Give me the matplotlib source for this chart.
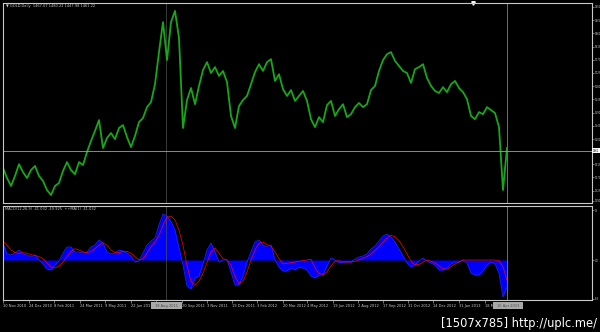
import numpy as np
import matplotlib
matplotlib.use('Agg')
import matplotlib.pyplot as plt
from matplotlib.patches import Rectangle

# GOLD daily close, sampled about once a week (Nov 2010 - Apr 2013)
close = [1402, 1368, 1341, 1375, 1415, 1388, 1368, 1395, 1409, 1375,
         1358, 1327, 1310, 1341, 1351, 1392, 1422, 1395, 1381, 1422,
         1412, 1456, 1494, 1528, 1565, 1470, 1504, 1521, 1500, 1538,
         1548, 1507, 1473, 1511, 1558, 1572, 1609, 1626, 1687, 1796,
         1898, 1769, 1898, 1936, 1844, 1538, 1633, 1674, 1619, 1681,
         1735, 1762, 1725, 1745, 1715, 1732, 1694, 1579, 1538, 1613,
         1633, 1647, 1687, 1728, 1755, 1732, 1762, 1772, 1698, 1721,
         1670, 1647, 1667, 1630, 1647, 1664, 1630, 1568, 1541, 1575,
         1558, 1616, 1630, 1579, 1602, 1619, 1575, 1585, 1609, 1623,
         1609, 1619, 1667, 1681, 1732, 1769, 1789, 1796, 1766, 1749,
         1732, 1725, 1691, 1738, 1745, 1755, 1708, 1681, 1664, 1657,
         1677, 1660, 1687, 1698, 1674, 1660, 1636, 1579, 1568, 1592,
         1585, 1609, 1599, 1589, 1541, 1327, 1470]

# MACD(12,26,9) main line and signal, same sampling
macd = [25.5, 9, 7.5, 10.5, 15, 9, 7.5, 4.5, 7.5, 0,
        -6, -13.5, -15, -7.5, -1.5, 10.5, 19.5, 19.5, 12, 12,
        10.5, 12, 19.5, 22.5, 30, 25.5, 12, 9, 10.5, 15,
        13.5, 10.5, 6, -3, -1.5, 10.5, 22.5, 28.5, 33, 52.5,
        69, 66, 57, 45, 18, -7.5, -39, -43.5, -27, -24,
        -6, 15, 25.5, 12, -3, 0, 0, -18, -37.5, -37.5,
        -24, -3, 12, 27, 30, 22.5, 19.5, 22.5, 0, -10.5,
        -16.5, -16.5, -12, -15, -10.5, -12, -15, -24, -27, -22.5,
        -22.5, -9, 3, 0, -4.5, -3, -3, -3, 1.5, 4.5,
        6, 9, 16.5, 21, 28.5, 36, 39, 34.5, 27, 16.5,
        6, -4.5, -10.5, -7.5, -1.5, 3, -1.5, -4.5, -7.5, -15,
        -15, -12, -6, -3, -3, 0, -4.5, -19.5, -22.5, -22.5,
        -16.5, -7.5, -3, -6, -19.5, -55.5, -40.5]

signal = [28, 22, 15, 11, 10, 11, 10, 8, 7, 5,
          2, -4, -10, -12, -9, -3, 5, 13, 17, 15,
          12, 11, 13, 17, 22, 26, 22, 15, 11, 11,
          13, 13, 10, 5, 0, 2, 10, 20, 27, 37,
          52, 64, 66, 60, 45, 22, -8, -32, -38, -32,
          -20, -4, 12, 18, 10, 2, 0, -8, -25, -35,
          -32, -18, 0, 15, 25, 27, 23, 21, 12, 2,
          -6, -5, -4, -3, -2, -1, 0, 1, -12, -20,
          -22, -18, -9, -2, -1, -3, -3, -3, -2, 0,
          3, 5, 9, 14, 20, 27, 33, 37, 35, 29,
          20, 9, -1, -7, -7, -3, 0, -2, -4, -9,
          -13, -14, -10, -6, -3, 0, 0, 0, 0, 0,
          0, 0, 0, 0, -1, -10, -30]

date_pos = [0, 6.5, 12.75, 19.25, 25.5, 32, 38.25, 44.75, 51, 57.25,
            63.5, 70, 76, 82.5, 88.75, 95, 101.25, 107.5, 114, 120.5]
date_labels = ["10 Nov 2010", "24 Dec 2010", "8 Feb 2011", "24 Mar 2011",
               "9 May 2011", "22 Jun 2011", "4 Aug 2011", "20 Sep 2011",
               "3 Nov 2011", "19 Dec 2011", "3 Feb 2012", "20 Mar 2012",
               "4 May 2012", "19 Jun 2012", "2 Aug 2012", "17 Sep 2012",
               "31 Oct 2012", "14 Dec 2012", "31 Jan 2013", "18 Mar"]

price_ticks = [1950, 1905, 1860, 1815, 1770, 1725, 1680, 1635, 1590,
               1545, 1500, 1415, 1370, 1325, 1290]
macd_ticks = [75.0, 0.0, -58.0]

W, H = 600, 332
FG = '#c8c8c8'

fig = plt.figure(figsize=(W / 100, H / 100), dpi=100, facecolor='black')


def px_axes(x0, y0, x1, y1):
    return fig.add_axes([x0 / W, 1 - y1 / H, (x1 - x0) / W, (y1 - y0) / H])


ax = px_axes(3, 3, 592, 203)
ax2 = px_axes(3, 206, 592, 300)

x = np.arange(len(close))
xmax = (592 - 3) / 4

for a in (ax, ax2):
    a.set_facecolor('black')
    for s in a.spines.values():
        s.set_color(FG)
        s.set_linewidth(0.8)
    a.set_xlim(0, xmax)
    a.yaxis.tick_right()
    a.tick_params(axis='y', colors=FG, labelsize=1.8, length=1.5, width=0.4, pad=0.3)
    a.axvline(126, color='#9a9a9a', lw=0.5)
    a.axvline(40.75, color='#505050', lw=0.5)

ax.plot(x, close, color='#16a816', lw=1.3)
ax.set_ylim(1283, 1963)
ax.set_yticks(price_ticks)
ax.set_yticklabels([str(v) for v in price_ticks])
ax.set_xticks([])
ax.axhline(1461.22, color='#a0a0a0', lw=0.6)
ax.text(1.0015, 1461.22, "1461", transform=ax.get_yaxis_transform(),
        fontsize=1.8, color='black', va='center', ha='left',
        bbox=dict(boxstyle='square,pad=0.25', fc='white', ec='none'))
ax.plot([117.5], [1963], marker='v', color='white', markersize=2.5, clip_on=False)

ax2.fill_between(x, 0, macd, color='#0000ff', lw=0)
ax2.plot(x, macd, color='#2020ff', lw=0.6)
ax2.plot(x, signal, color='#ff0000', lw=0.5)
ax2.set_ylim(-60, 81)
ax2.set_yticks(macd_ticks)
ax2.set_yticklabels(["75", "0.0", "-58"])
ax2.set_xticks(date_pos)
ax2.set_xticklabels(date_labels, ha='left')
ax2.tick_params(axis='x', colors=FG, labelsize=2.6, length=2, width=0.4, pad=1)

fig.text(6 / W, 1 - 6 / H, "\u25bc GOLD,Daily  1467.07 1480.22 1447.98 1461.22",
         fontsize=2.6, color=FG, va='center', ha='left')
fig.text(5 / W, 1 - 209 / H, "MACD(12,26,9) -41.032 -49.925  ++MA(1) -41.032",
         fontsize=2.6, color=FG, va='center', ha='left')

# highlighted date boxes under the vertical lines
for bx0, bx1, label in [(151, 182, "18 Aug 2011"), (493, 523, "15 Apr 2013")]:
    fig.patches.append(Rectangle((bx0 / W, 1 - 309 / H), (bx1 - bx0) / W, 7 / H,
                                 transform=fig.transFigure, fc='#a8a8a8', ec='none'))
    fig.text((bx0 + bx1) / 2 / W, 1 - 305.5 / H, label, fontsize=2.6,
             color='#505050', ha='center', va='center')

fig.text(597 / W, 1 - 324 / H, "[1507x785] http://uplc.me/", fontsize=8.3,
         color='white', ha='right', va='center')

fig.savefig('out.png', dpi=100, facecolor='black')
